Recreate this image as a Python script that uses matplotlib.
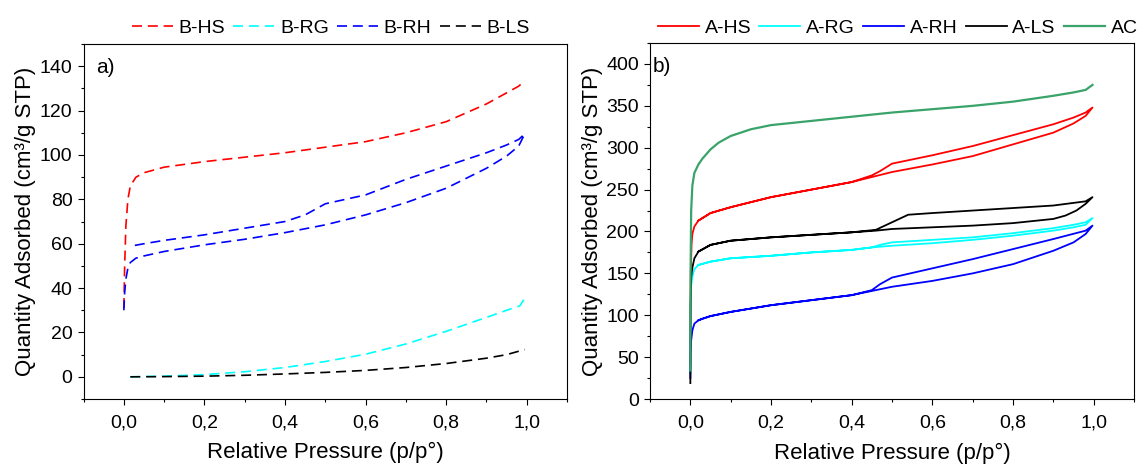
import numpy as np
import matplotlib
matplotlib.use("Agg")
import matplotlib.pyplot as plt
from matplotlib.ticker import MultipleLocator, FuncFormatter

plt.rcParams["font.family"] = ["Liberation Sans", "DejaVu Sans"]

# ---------------- datos panel a) (lineas discontinuas) ----------------
bhs_x = [0, 0.002, 0.005, 0.01, 0.016, 0.03, 0.05, 0.1, 0.2, 0.3, 0.4, 0.5, 0.6, 0.7, 0.8, 0.9, 0.95, 0.98, 0.995]
bhs_y = [31, 50, 68, 80, 86, 90, 92, 94.5, 97, 99, 101, 103.5, 106, 110, 115, 123, 128, 131, 133.5]

brh_ads_x = [0, 0.002, 0.005, 0.01, 0.016, 0.03, 0.05, 0.1, 0.2, 0.3, 0.4, 0.5, 0.6, 0.7, 0.8, 0.9, 0.95, 0.98, 0.995]
brh_ads_y = [30, 38, 44, 49, 51.5, 53.5, 54.5, 56.5, 59.5, 62, 65, 68.5, 73, 78.5, 85, 94, 99.5, 104, 109.5]
brh_des_x = [0.995, 0.98, 0.95, 0.9, 0.8, 0.7, 0.6, 0.5, 0.47, 0.45, 0.4, 0.3, 0.2, 0.1, 0.05, 0.02]
brh_des_y = [109.5, 107, 104.5, 101, 95, 89, 82, 78, 75, 73, 70, 67, 64, 61.5, 60, 59]

brg_x = [0.016, 0.1, 0.2, 0.3, 0.4, 0.5, 0.6, 0.7, 0.8, 0.9, 0.95, 0.983, 0.995]
brg_y = [0, 0.3, 1.0, 2.3, 4.2, 6.9, 10.2, 14.8, 20.5, 26.8, 30, 32, 35.5]

bls_x = [0.016, 0.1, 0.2, 0.3, 0.4, 0.5, 0.6, 0.7, 0.8, 0.9, 0.95, 0.995]
bls_y = [0, 0.1, 0.3, 0.7, 1.3, 2.0, 2.9, 4.2, 6.0, 8.4, 10, 12.3]

# ---------------- datos panel b) (adsorcion / desorcion) ----------------
ac_x = [0, 0.0005, 0.002, 0.005, 0.01, 0.02, 0.03, 0.05, 0.07, 0.1, 0.15, 0.2, 0.3, 0.4, 0.5, 0.6, 0.7, 0.8, 0.9, 0.95, 0.98, 0.997]
ac_y = [34, 150, 225, 255, 270, 280, 287, 298, 306, 314, 322, 327, 332, 337, 342, 346, 350, 355, 362, 366, 369, 375]

ahs_ads_x = [0, 0.001, 0.003, 0.005, 0.01, 0.02, 0.05, 0.1, 0.2, 0.3, 0.4, 0.45, 0.5, 0.6, 0.7, 0.8, 0.9, 0.95, 0.98, 0.997]
ahs_ads_y = [40, 150, 185, 197, 206, 213, 222, 229, 241, 250, 259, 265, 271, 280, 290, 304, 318, 329, 338, 348]
ahs_des_x = [0.997, 0.98, 0.95, 0.9, 0.8, 0.7, 0.6, 0.5, 0.47, 0.45, 0.4, 0.3, 0.2, 0.1, 0.05, 0.02]
ahs_des_y = [348, 342, 336, 328, 315, 302, 291, 281, 272, 267, 259, 250, 241, 229, 222, 213]

als_ads_x = [0, 0.0005, 0.002, 0.005, 0.01, 0.02, 0.05, 0.1, 0.2, 0.3, 0.4, 0.46, 0.5, 0.6, 0.7, 0.8, 0.9, 0.93, 0.957, 0.98, 0.997]
als_ads_y = [19, 110, 145, 157, 168, 176, 184, 189, 193, 196, 199, 201, 203, 205, 207, 210, 215, 219, 225, 233, 241]
als_des_x = [0.997, 0.98, 0.9, 0.8, 0.7, 0.6, 0.54, 0.5, 0.46, 0.4, 0.3, 0.2, 0.1, 0.05, 0.02]
als_des_y = [241, 236, 231, 228, 225, 222, 220, 211, 202, 199, 196, 193, 189, 184, 176]

arg_ads_x = [0, 0.0005, 0.002, 0.005, 0.01, 0.02, 0.05, 0.1, 0.2, 0.3, 0.4, 0.45, 0.5, 0.6, 0.7, 0.8, 0.9, 0.95, 0.98, 0.997]
arg_ads_y = [30, 110, 135, 146, 155, 160, 164, 168, 171, 175, 178, 181, 183, 186, 190, 195, 201, 205, 208, 216]
arg_des_x = [0.997, 0.98, 0.95, 0.9, 0.8, 0.7, 0.6, 0.5, 0.47, 0.45, 0.4, 0.3, 0.2, 0.1, 0.05, 0.02]
arg_des_y = [216, 211, 208, 204, 198, 193, 190, 187, 184, 181, 178, 175, 171, 168, 164, 160]

arh_ads_x = [0, 0.0005, 0.002, 0.005, 0.01, 0.02, 0.03, 0.05, 0.1, 0.2, 0.3, 0.4, 0.45, 0.5, 0.6, 0.7, 0.8, 0.9, 0.95, 0.98, 0.997]
arh_ads_y = [25, 55, 70, 82, 90, 94, 96, 99, 104, 112, 118, 124, 129, 134, 141, 150, 161, 177, 187, 197, 207]
arh_des_x = [0.997, 0.98, 0.9, 0.8, 0.7, 0.6, 0.5, 0.47, 0.45, 0.4, 0.3, 0.2, 0.1, 0.05, 0.02]
arh_des_y = [207, 201, 191, 179, 167, 156, 145, 137, 130, 124, 118, 112, 104, 99, 94]

# Crear figura con dos paneles
fig = plt.figure(figsize=(11.37, 4.68), dpi=100)
ax1 = fig.add_axes([0.0735, 0.1474, 0.4252, 0.7585])
ax2 = fig.add_axes([0.5717, 0.1474, 0.4257, 0.7607])

dash = (6, 3.5)

# Panel a)
ax1.plot(bhs_x, bhs_y, color="#ff0000", lw=1.2, dashes=dash, label="B-HS")
ax1.plot(brg_x, brg_y, color="#00ffff", lw=1.2, dashes=dash, label="B-RG")
ax1.plot(brh_ads_x + brh_des_x, brh_ads_y + brh_des_y, color="#0000ff", lw=1.2, dashes=dash, label="B-RH")
ax1.plot(bls_x, bls_y, color="black", lw=1.2, dashes=dash, label="B-LS")

# Panel b)
ax2.plot(ahs_ads_x + ahs_des_x, ahs_ads_y + ahs_des_y, color="#ff0000", lw=1.3, label="A-HS")
ax2.plot(arg_ads_x + arg_des_x, arg_ads_y + arg_des_y, color="#00ffff", lw=1.3, label="A-RG")
ax2.plot(arh_ads_x + arh_des_x, arh_ads_y + arh_des_y, color="#0000ff", lw=1.3, label="A-RH")
ax2.plot(als_ads_x + als_des_x, als_ads_y + als_des_y, color="black", lw=1.3, label="A-LS")
ax2.plot(ac_x, ac_y, color="#3aa36a", lw=1.6, label="AC")

coma = FuncFormatter(lambda v, p: ("%.1f" % v).replace(".", ","))

for ax, ylim, ystep, letra, lx in [(ax1, (-10, 150), 20, "a)", 0.026), (ax2, (0, 425), 50, "b)", 0.006)]:
    ax.set_xlim(-0.1, 1.1)
    ax.set_ylim(*ylim)
    ax.xaxis.set_major_locator(MultipleLocator(0.2))
    ax.xaxis.set_minor_locator(MultipleLocator(0.1))
    ax.xaxis.set_major_formatter(coma)
    ax.yaxis.set_major_locator(MultipleLocator(ystep))
    ax.yaxis.set_minor_locator(MultipleLocator(ystep / 2))
    ax.tick_params(which="major", direction="out", length=4, width=0.8, labelsize=14, pad=4)
    ax.tick_params(which="minor", direction="out", length=2.2, width=0.8)
    ax.tick_params(axis="x", which="major", pad=7)
    for s in ax.spines.values():
        s.set_linewidth(0.8)
    ax.set_xlabel("Relative Pressure (p/p°)", fontsize=16)
    ax.set_ylabel("Quantity Adsorbed (cm³/g STP)", fontsize=16)
    ax.xaxis.set_label_coords(0.5, -0.122)
    ax.yaxis.set_label_coords(-0.098, 0.5)
    ax.text(lx, 0.935, letra, transform=ax.transAxes, fontsize=15, va="center", ha="left")

# Leyendas encima de cada panel
ley = dict(loc="center left", ncol=5, frameon=False, fontsize=14, handlelength=2.1,
           handletextpad=0.3, columnspacing=0.42, borderpad=0, borderaxespad=0,
           bbox_transform=fig.transFigure)
ax1.legend(bbox_to_anchor=(132 / 1137, 1 - 28 / 468), **ley)
ax2.legend(bbox_to_anchor=(658 / 1137, 1 - 28 / 468), **ley)

fig.savefig("out.png", dpi=100)
